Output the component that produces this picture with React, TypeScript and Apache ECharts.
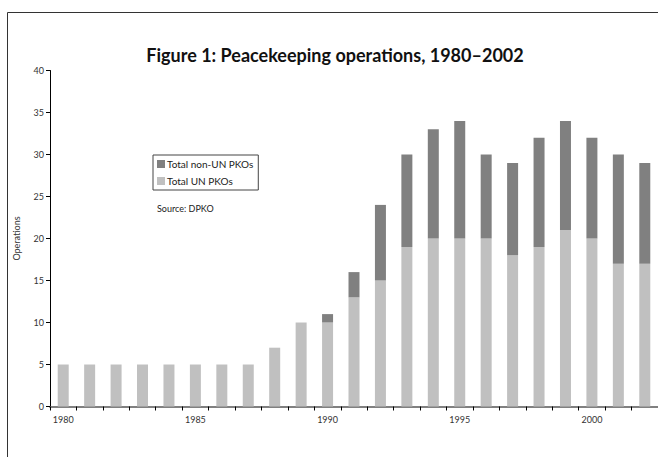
import React, { useEffect, useRef } from "react";
import * as echarts from "echarts";

const years = ["1980","1981","1982","1983","1984","1985","1986","1987","1988","1989","1990","1991","1992","1993","1994","1995","1996","1997","1998","1999","2000","2001","2002"];
const unPKOs = [5,5,5,5,5,5,5,5,7,10,10,13,15,19,20,20,20,18,19,21,20,17,17];
const nonUnPKOs = [0,0,0,0,0,0,0,0,0,0,1,3,9,11,13,14,10,11,13,13,12,13,12];
const yTicks = { min: 0, max: 40, interval: 5 };

const FONT = "Lato, 'Open Sans', sans-serif";

export default function App() {
  const ref = useRef<HTMLDivElement>(null);
  useEffect(() => {
    if (!ref.current) return;
    const chart = echarts.init(ref.current, null, { renderer: "svg" });
    chart.setOption({
      animation: false,
      backgroundColor: "#ffffff",
      textStyle: { fontFamily: FONT },
      grid: { left: 50, right: -1, top: 70.5, bottom: 50.5, containLabel: false },
      legend: {
        orient: "vertical",
        left: 153,
        top: 155,
        data: ["Total non-UN PKOs", "Total UN PKOs"],
        itemWidth: 8,
        itemHeight: 8,
        itemGap: 7,
        padding: [4, 5, 4, 4],
        borderColor: "#444",
        borderWidth: 1,
        icon: "rect",
        textStyle: { fontFamily: FONT, fontSize: 10, color: "#222", padding: [0, 0, 0, -3] },
      },
      graphic: [
        {
          type: "polyline",
          shape: { points: [[7.5, 460], [7.5, 12.5], [660, 12.5]] },
          style: { stroke: "#333", lineWidth: 1, fill: "none" },
          silent: true,
        },
        {
          type: "text",
          x: 335,
          y: 55,
          style: {
            text: "Figure 1: Peacekeeping operations, 1980–2002",
            font: `bold 18px ${FONT}`,
            fill: "#111",
            textAlign: "center",
            textVerticalAlign: "middle",
          },
        },
        {
          type: "text",
          x: 157,
          y: 208,
          style: {
            text: "Source: DPKO",
            font: `9px ${FONT}`,
            fill: "#222",
            textAlign: "left",
            textVerticalAlign: "middle",
          },
        },
      ],
      xAxis: {
        type: "category",
        data: years,
        boundaryGap: true,
        axisLine: { lineStyle: { color: "#808080", width: 2 } },
        axisTick: { show: true, interval: 0, length: 4, lineStyle: { color: "#000" } },
        axisLabel: { interval: 4, fontSize: 9, color: "#333", margin: 8, fontFamily: FONT },
      },
      yAxis: {
        type: "value",
        min: yTicks.min,
        max: yTicks.max,
        interval: yTicks.interval,
        name: "Operations",
        nameLocation: "middle",
        nameRotate: 90,
        nameGap: 29,
        nameTextStyle: { fontSize: 9, color: "#333", fontFamily: FONT },
        axisLine: { show: true, lineStyle: { color: "#000", width: 1 } },
        axisTick: { show: true, length: 4, lineStyle: { color: "#000" } },
        axisLabel: { fontSize: 9, color: "#333", margin: 6, fontFamily: FONT },
        splitLine: { show: false },
      },
      series: [
        {
          name: "Total UN PKOs",
          type: "bar",
          stack: "total",
          data: unPKOs,
          barWidth: 11,
          itemStyle: { color: "#c0c0c0" },
        },
        {
          name: "Total non-UN PKOs",
          type: "bar",
          stack: "total",
          data: nonUnPKOs,
          barWidth: 11,
          itemStyle: { color: "#808080" },
        },
      ],
    });
    return () => chart.dispose();
  }, []);
  return (
    <div
      ref={ref}
      style={{ position: "absolute", left: 0, top: 0, width: 658, height: 457 }}
    />
  );
}
